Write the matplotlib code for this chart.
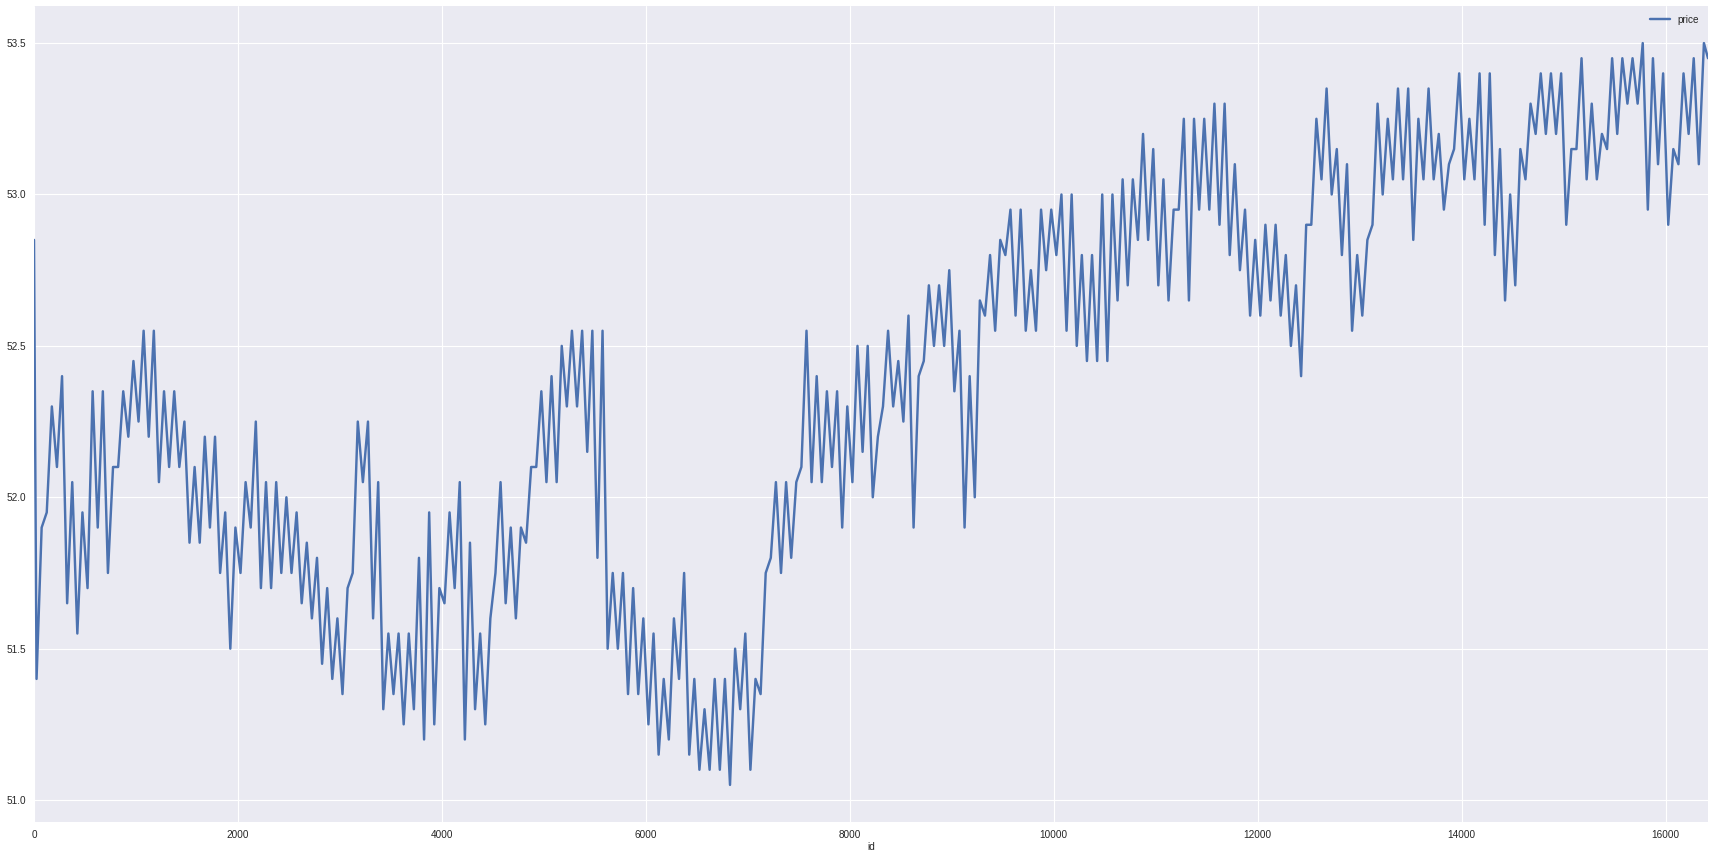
import numpy as np
import pandas as pd
import matplotlib
matplotlib.use('Agg')
import matplotlib.pyplot as plt
from matplotlib.ticker import MultipleLocator

# price readings: low / high per 100-id bucket
first_price = 52.85
last_price = 53.45
last_id = 16415

lows = [
    51.40, 51.95, 52.10, 51.65, 51.55, 51.70, 51.90, 51.75, 52.10, 52.20,
    52.25, 52.20, 52.05, 52.10, 52.10, 51.85, 51.85, 51.90, 51.75, 51.50,
    51.75, 51.90, 51.70, 51.70, 51.75, 51.75, 51.65, 51.60, 51.45, 51.40,
    51.35, 51.75, 52.05, 51.60, 51.30, 51.35, 51.25, 51.30, 51.20, 51.25,
    51.65, 51.70, 51.20, 51.30, 51.25, 51.75, 51.65, 51.60, 51.85, 52.10,
    52.05, 52.05, 52.30, 52.30, 52.15, 51.80, 51.50, 51.50, 51.35, 51.35,
    51.25, 51.15, 51.20, 51.40, 51.15, 51.10, 51.10, 51.10, 51.05, 51.30,
    51.10, 51.35, 51.80, 51.75, 51.80, 52.10, 52.05, 52.05, 52.10, 51.90,
    52.05, 52.15, 52.00, 52.30, 52.30, 52.25, 51.90, 52.45, 52.50, 52.50,
    52.35, 51.90, 52.00, 52.60, 52.55, 52.80, 52.60, 52.55, 52.55, 52.75,
    52.80, 52.55, 52.50, 52.45, 52.45, 52.45, 52.65, 52.70, 52.85, 52.85,
    52.70, 52.65, 52.95, 52.65, 52.95, 52.95, 52.90, 52.80, 52.75, 52.60,
    52.60, 52.65, 52.60, 52.50, 52.40, 52.90, 53.05, 53.00, 52.80, 52.55,
    52.60, 52.90, 53.00, 53.05, 53.05, 52.85, 53.05, 53.05, 52.95, 53.15,
    53.05, 53.05, 52.90, 52.80, 52.65, 52.70, 53.05, 53.20, 53.20, 53.20,
    52.90, 53.15, 53.05, 53.05, 53.15, 53.20, 53.30, 53.30, 52.95, 53.10,
    52.90, 53.10, 53.20, 53.10,
]
highs = [
    51.90, 52.30, 52.40, 52.05, 51.95, 52.35, 52.35, 52.10, 52.35, 52.45,
    52.55, 52.55, 52.35, 52.35, 52.25, 52.10, 52.20, 52.20, 51.95, 51.90,
    52.05, 52.25, 52.05, 52.05, 52.00, 51.95, 51.85, 51.80, 51.70, 51.60,
    51.70, 52.25, 52.25, 52.05, 51.55, 51.55, 51.55, 51.80, 51.95, 51.70,
    51.95, 52.05, 51.85, 51.55, 51.60, 52.05, 51.90, 51.90, 52.10, 52.35,
    52.40, 52.50, 52.55, 52.55, 52.55, 52.55, 51.75, 51.75, 51.70, 51.60,
    51.55, 51.40, 51.60, 51.75, 51.40, 51.30, 51.40, 51.40, 51.50, 51.55,
    51.40, 51.75, 52.05, 52.05, 52.05, 52.55, 52.40, 52.35, 52.35, 52.30,
    52.50, 52.50, 52.20, 52.55, 52.45, 52.60, 52.40, 52.70, 52.70, 52.75,
    52.55, 52.40, 52.65, 52.80, 52.85, 52.95, 52.95, 52.75, 52.95, 52.95,
    53.00, 53.00, 52.80, 52.80, 53.00, 53.00, 53.05, 53.05, 53.20, 53.15,
    53.05, 52.95, 53.25, 53.25, 53.25, 53.30, 53.30, 53.10, 52.95, 52.85,
    52.90, 52.90, 52.80, 52.70, 52.90, 53.25, 53.35, 53.15, 53.10, 52.80,
    52.85, 53.30, 53.25, 53.35, 53.35, 53.25, 53.35, 53.20, 53.10, 53.40,
    53.25, 53.40, 53.40, 53.15, 53.00, 53.15, 53.30, 53.40, 53.40, 53.40,
    53.15, 53.45, 53.30, 53.20, 53.45, 53.45, 53.45, 53.50, 53.45, 53.40,
    53.15, 53.40, 53.45, 53.50,
]

bin_start = np.arange(len(lows)) * 100
ids = np.concatenate([[0], np.column_stack([bin_start + 25, bin_start + 75]).ravel(), [last_id]])
price = np.concatenate([[first_price], np.column_stack([lows, highs]).ravel(), [last_price]])

df = pd.DataFrame({'price': price}, index=pd.Index(ids, name='id'))

plt.style.use('seaborn-v0_8-darkgrid')
plt.rcParams['font.family'] = ['Liberation Sans', 'DejaVu Sans']

fig = plt.figure(figsize=(17.14, 8.59), dpi=100)
ax = fig.add_axes([34 / 1714, 37 / 859, (1708 - 34) / 1714, (853 - 37) / 859])

df.plot(ax=ax, color='#4C72B0', linewidth=1.75)

ax.set_xlim(0, last_id)
ax.xaxis.set_major_locator(MultipleLocator(2000))
ax.yaxis.set_major_locator(MultipleLocator(0.5))
ax.tick_params(labelsize=7.2, pad=5.5, length=0, colors='.15')
ax.xaxis.label.set_size(7.2)
ax.xaxis.labelpad = 2
ax.legend(loc='upper right', fontsize=7.2, frameon=False)

fig.savefig('out.png', dpi=100)
